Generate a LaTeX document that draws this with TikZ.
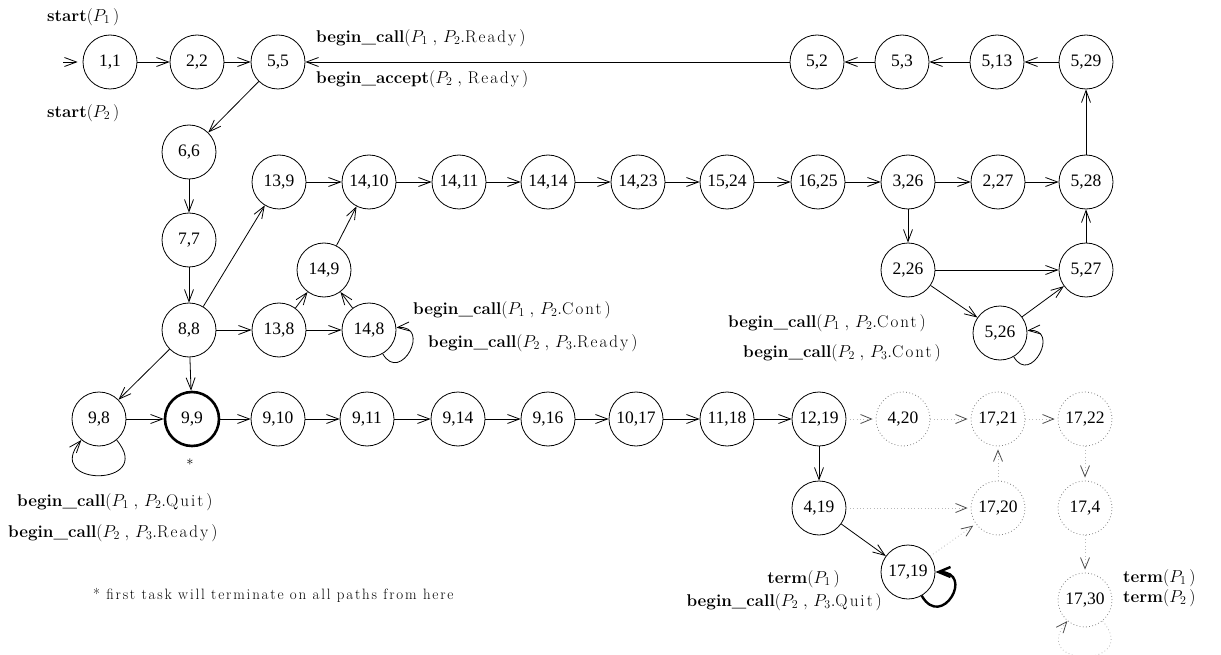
\documentclass[tikz,border=0pt]{standalone}
\usepackage{fontspec}
\newfontfamily\statefont{Liberation Serif}
\newfontfamily\spacedfont{Latin Modern Roman}[LetterSpace=12]
\usepackage{tikz}
\usetikzlibrary{arrows.meta}
\definecolor{DeadDraw}{gray}{0.5}
\definecolor{DeadLine}{gray}{0.72}
\tikzset{
  state/.style={draw,circle,minimum size=54pt,inner sep=0pt,line width=0.8pt,font=\statefont\fontsize{17.5}{20}\selectfont},
  marked/.style={state,line width=2.6pt},
  deadstate/.style={state,draw=DeadDraw,dash pattern=on 0.8pt off 2.4pt},
  trans/.style={-{Straight Barb[length=12pt,width=9pt]},line width=0.8pt},
  thicktrans/.style={-{Straight Barb[length=12pt,width=10pt]},line width=2.4pt},
  deadtrans/.style={-{Straight Barb[length=11pt,width=9pt,color=black!70,line width=0.8pt]},draw=DeadLine,line width=0.8pt,dash pattern=on 0.8pt off 2.6pt,shorten >=3pt},
  lbl/.style={inner sep=0pt,font=\fontsize{17}{20}\selectfont},
  note/.style={inner sep=0pt,font=\spacedfont\fontsize{15}{18}\selectfont}
}
\newcommand{\bc}[3]{\textbf{begin\_call}$(P_{#1}\;,\,P_{#2}.\mbox{\spacedfont #3}\,)$}

\begin{document}
\begin{tikzpicture}[x=1pt,y=-1pt]
\useasboundingbox (0,0) rectangle (1221,655);
% top row
\node[state] (s11) at (110,62) {1,1};
\node[state] (s22) at (197,62) {2,2};
\node[state] (s55) at (278,62) {5,5};
\node[state] (s52) at (817,62) {5,2};
\node[state] (s53) at (902,62) {5,3};
\node[state] (s513) at (997,62) {5,13};
\node[state] (s529) at (1086,62) {5,29};
% left column
\node[state] (s66) at (189,152) {6,6};
\node[state] (s77) at (189,240) {7,7};
\node[state] (s88) at (189,330) {8,8};
% second row
\node[state] (s139) at (279,182) {13,9};
\node[state] (s1410) at (369,182) {14,10};
\node[state] (s1411) at (459,182) {14,11};
\node[state] (s1414) at (548,182) {14,14};
\node[state] (s1423) at (638,182) {14,23};
\node[state] (s1524) at (727,182) {15,24};
\node[state] (s1625) at (818,182) {16,25};
\node[state] (s326) at (908,182) {3,26};
\node[state] (s227) at (998,182) {2,27};
\node[state] (s528) at (1086,182) {5,28};
\node[state] (s149) at (324,270) {14,9};
\node[state] (s138) at (279,330) {13,8};
\node[state] (s148) at (369,330) {14,8};
\node[state] (s226) at (908,270) {2,26};
\node[state] (s527) at (1086,270) {5,27};
\node[state] (s526) at (1000,333) {5,26};
% third row
\node[state] (s98) at (99,419) {9,8};
\node[marked] (s99) at (192,419) {9,9};
\node[state] (s910) at (278,419) {9,10};
\node[state] (s911) at (367,419) {9,11};
\node[state] (s914) at (458,419) {9,14};
\node[state] (s916) at (548,419) {9,16};
\node[state] (s1017) at (636,419) {10,17};
\node[state] (s1118) at (727,419) {11,18};
\node[state] (s1219) at (819,419) {12,19};
\node[deadstate] (s420) at (903,419) {4,20};
\node[deadstate] (s1721) at (998,419) {17,21};
\node[deadstate] (s1722) at (1085,419) {17,22};
\node[state] (s419) at (819,508) {4,19};
\node[deadstate] (s1720) at (998,508) {17,20};
\node[deadstate] (s174) at (1085,508) {17,4};
\node[state] (s1719) at (908,572) {17,19};
\node[deadstate] (s1730) at (1085,600) {17,30};
\coordinate (init) at (63,62);

\draw[trans,shorten >=5pt] (init) -- (s11);
\draw[trans] (s11) -- (s22);
\draw[trans] (s22) -- (s55);
\draw[trans] (s52) -- (s55);
\draw[trans] (s53) -- (s52);
\draw[trans] (s513) -- (s53);
\draw[trans] (s529) -- (s513);
\draw[trans] (s528) -- (s529);
\draw[trans] (s55) -- (s66);
\draw[trans] (s66) -- (s77);
\draw[trans] (s77) -- (s88);
\draw[trans] (s88) -- (s139);
\draw[trans] (s88) -- (s138);
\draw[trans] (s88) -- (s98);
\draw[trans] (s88) -- (s99);
\draw[trans] (s139) -- (s1410);
\draw[trans] (s138) -- (s149);
\draw[trans] (s138) -- (s148);
\draw[trans] (s148) -- (s149);
\draw[trans] (s149) -- (s1410);
\draw[trans] (s148) to[out=-60,in=5,min distance=36pt] (s148);
\draw[trans] (s1410) -- (s1411);
\draw[trans] (s1411) -- (s1414);
\draw[trans] (s1414) -- (s1423);
\draw[trans] (s1423) -- (s1524);
\draw[trans] (s1524) -- (s1625);
\draw[trans] (s1625) -- (s326);
\draw[trans] (s326) -- (s227);
\draw[trans] (s227) -- (s528);
\draw[trans] (s326) -- (s226);
\draw[trans] (s226) -- (s527);
\draw[trans] (s226) -- (s526);
\draw[trans] (s526) -- (s527);
\draw[trans] (s527) -- (s528);
\draw[trans] (s526) to[out=-60,in=5,min distance=34pt] (s526);
\draw[trans] (s98) to[out=-50,in=-130,min distance=62pt] (s98);
\draw[trans] (s98) -- (s99);
\draw[trans] (s99) -- (s910);
\draw[trans] (s910) -- (s911);
\draw[trans] (s911) -- (s914);
\draw[trans] (s914) -- (s916);
\draw[trans] (s916) -- (s1017);
\draw[trans] (s1017) -- (s1118);
\draw[trans] (s1118) -- (s1219);
\draw[trans] (s1219) -- (s419);
\draw[trans] (s419) -- (s1719);
\draw[thicktrans] (s1719) to[out=-60,in=0,min distance=40pt] (s1719);
% transitions that lead nowhere
\draw[deadtrans] (s1219) -- (s420);
\draw[deadtrans] (s420) -- (s1721);
\draw[deadtrans] (s1721) -- (s1722);
\draw[deadtrans] (s419) -- (s1720);
\draw[deadtrans] (s1719) -- (s1720);
\draw[deadtrans] (s1720) -- (s1721);
\draw[deadtrans] (s1722) -- (s174);
\draw[deadtrans] (s174) -- (s1730);
\draw[deadtrans,shorten >=0pt] (s1730) to[out=-50,in=-130,min distance=62pt] (s1730);

% labels
\node[lbl,anchor=west] (l1) at (47,17) {\textbf{start}$(P_1\,)$};
\node[lbl,anchor=west] (l2) at (47,113) {\textbf{start}$(P_2\,)$};
\node[lbl,anchor=west] (l3) at (316,38) {\bc{1}{2}{Ready}};
\node[lbl,anchor=west] (l4) at (316,79) {\textbf{begin\_accept}$(P_2\;,\,\mbox{\spacedfont Ready}\,)$};
\node[lbl,anchor=west] (l5) at (413,310) {\bc{1}{2}{Cont}};
\node[lbl,anchor=west] (l6) at (428,343) {\bc{2}{3}{Ready}};
\node[lbl,anchor=west] (l7) at (728,323) {\bc{1}{2}{Cont}};
\node[lbl,anchor=west] (l8) at (743,353) {\bc{2}{3}{Cont}};
\node[lbl,anchor=west] (l9) at (17,502) {\bc{1}{2}{Quit}};
\node[lbl,anchor=west] (l10) at (8,533) {\bc{2}{3}{Ready}};
\node[lbl,anchor=east] (l11) at (840,579) {\textbf{term}$(P_1\,)$};
\node[lbl,anchor=east] (l12) at (882,602) {\bc{2}{3}{Quit}};
\node[lbl,anchor=west] (l13) at (1123,578) {\textbf{term}$(P_1\,)$};
\node[lbl,anchor=west] (l14) at (1123,598) {\textbf{term}$(P_2\,)$};
\node[note] (star) at (190,462) {$*$};
\node[note,anchor=west] (foot) at (93,595) {* first task will terminate on all paths from here};
\end{tikzpicture}
\end{document}
